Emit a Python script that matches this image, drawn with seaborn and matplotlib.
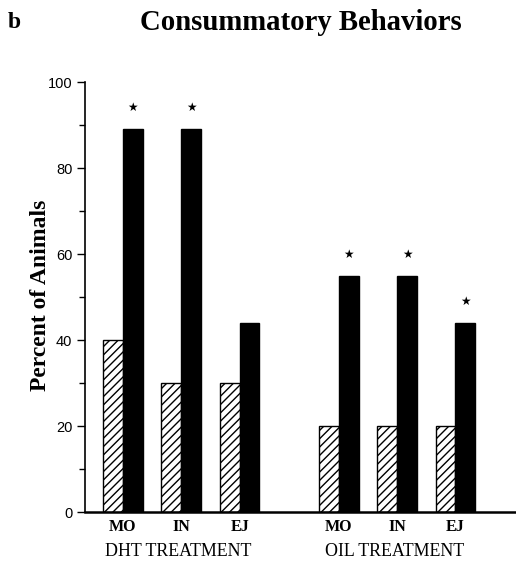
import matplotlib
matplotlib.use("Agg")
import matplotlib.pyplot as plt
import matplotlib.transforms as mtransforms
import numpy as np
import pandas as pd
import seaborn as sns

# ---- data ----
behaviors = ["MO", "IN", "EJ", "MO", "IN", "EJ"]
treatments = ["DHT TREATMENT", "DHT TREATMENT", "DHT TREATMENT",
              "OIL TREATMENT", "OIL TREATMENT", "OIL TREATMENT"]
hatched_values = [40, 30, 30, 20, 20, 20]
black_values = [89, 89, 44, 55, 55, 44]
significant = [True, True, False, True, True, True]
yticks = [0, 20, 40, 60, 80, 100]

# ---- layout ----
group_gap = 1.7
group_names = list(dict.fromkeys(treatments))
positions = []
counts = {}
for t in treatments:
    gi = group_names.index(t)
    idx = counts.get(t, 0)
    counts[t] = idx + 1
    positions.append(gi * (2 + group_gap) + idx)

df = pd.DataFrame({
    "pos": positions * 2,
    "value": hatched_values + black_values,
    "cond": ["hatched"] * len(positions) + ["black"] * len(positions),
})

sns.set_style("ticks")
plt.rcParams["hatch.linewidth"] = 1.0
plt.rcParams["text.color"] = "black"
plt.rcParams["axes.labelcolor"] = "black"
plt.rcParams["xtick.color"] = "black"
plt.rcParams["ytick.color"] = "black"

fig = plt.figure(figsize=(5.16, 5.62), dpi=100)
ax = fig.add_axes([85 / 516, 50 / 562, (516 - 85) / 516 - 0.002, 430 / 562])

width = 0.68
sns.barplot(data=df, x="pos", y="value", hue="cond", native_scale=True,
            palette={"hatched": "white", "black": "black"}, edgecolor="black",
            linewidth=1.0, width=width, ax=ax, legend=False, errorbar=None,
            saturation=1)

for bar in ax.containers[0]:
    bar.set_hatch("////")
    bar.set_facecolor("white")
    bar.set_edgecolor("black")

# stars above black bars
for p, v, s in zip(positions, black_values, significant):
    if s:
        ax.text(p + width / 4, v + 5.0, "\u2605", ha="center", va="center",
                fontsize=8.5, family="DejaVu Sans", color="black")

ax.set_xlim(-0.65, 6.72)
ax.set_ylim(0, 100)
ax.set_yticks(yticks)
ax.set_yticklabels([str(t) for t in yticks], family="Liberation Sans", fontsize=10.5)
ax.set_yticks([10, 30, 50, 70, 90], minor=True)
ax.tick_params(axis="y", which="major", length=6, width=1, direction="out", pad=3,
               colors="black")
ax.tick_params(axis="y", which="minor", length=4, width=1, direction="out",
               colors="black")

ax.set_xticks(positions)
ax.set_xticklabels(behaviors, family="Liberation Serif", fontsize=11.5, fontweight="bold")
ax.tick_params(axis="x", length=0, pad=5, colors="black")
ax.set_xlabel("")

ax.set_ylabel("Percent of Animals", family="Liberation Serif", fontsize=17,
              fontweight="bold", color="black")
ax.yaxis.set_label_coords(-0.079, 0.505)

sns.despine(ax=ax)
ax.spines["left"].set_linewidth(1.2)
ax.spines["bottom"].set_linewidth(1.8)
ax.spines["left"].set_color("black")
ax.spines["bottom"].set_color("black")

trans = mtransforms.blended_transform_factory(ax.transData, ax.transAxes)
for g in group_names:
    ps = [p for p, t in zip(positions, treatments) if t == g]
    ax.text(np.mean(ps) - 0.05, -0.091, g, transform=trans, ha="center", va="center",
            family="Liberation Serif", fontsize=12.9, color="black")

fig.text(0.583, 1 - 23 / 562, "Consummatory Behaviors", ha="center", va="center",
         family="Liberation Serif", fontsize=20.7, fontweight="bold", color="black")
fig.text(8 / 516, 1 - 23 / 562, "b", ha="left", va="center",
         family="Liberation Serif", fontsize=17, fontweight="bold", color="black")

fig.savefig("out.png", dpi=100)
